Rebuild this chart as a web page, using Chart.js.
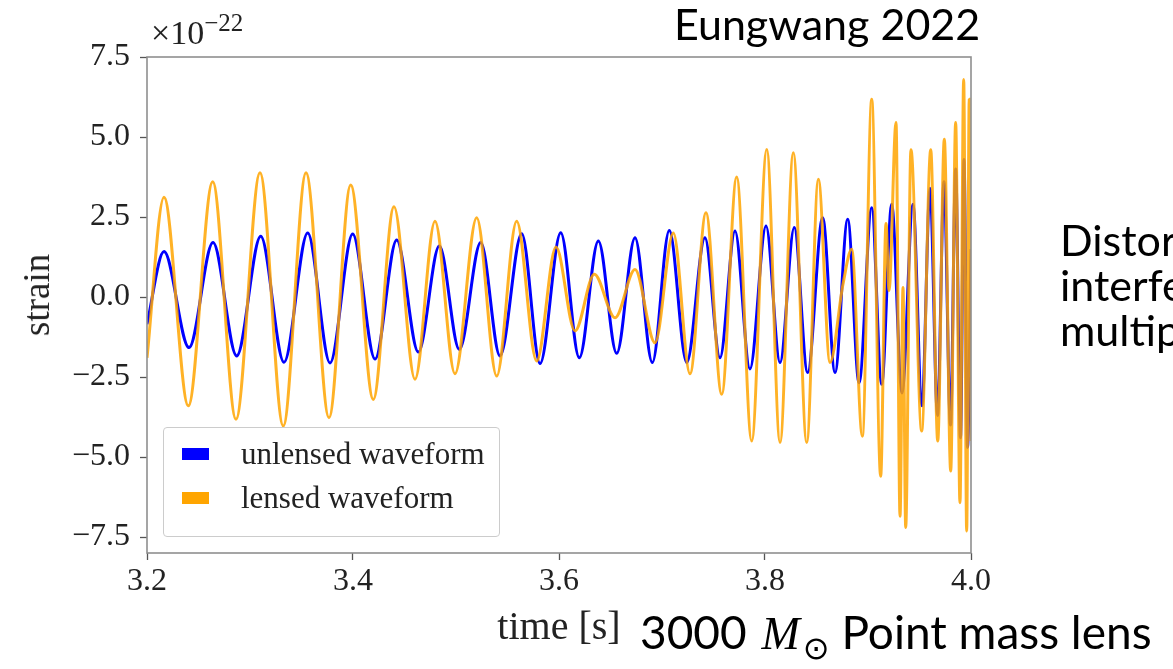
<!DOCTYPE html>
<html lang="en">
<head>
  <meta charset="UTF-8" />
  <title>Unlensed vs lensed waveform</title>
  <script src="https://cdn.jsdelivr.net/npm/chart.js"></script>
  <style>
    html, body {
      margin: 0;
      padding: 0;
      background: #fff;
    }

    body {
      width: 1173px;
      height: 669px;
      position: relative;
      overflow: hidden;
    }

    #waveChart {
      position: absolute;
      left: 0;
      top: 0;
    }

    .serif {
      position: absolute;
      font-family: 'Liberation Serif', 'DejaVu Serif', serif;
      color: #222;
      white-space: nowrap;
    }

    .sans {
      position: absolute;
      font-family: Lato, 'Open Sans', sans-serif;
      color: #000;
      white-space: nowrap;
      font-size: 43px;
    }

    #legend {
      position: absolute;
      left: 163px;
      top: 427px;
      width: 335px;
      height: 108px;
      border: 1.5px solid #cccccc;
      border-radius: 4px;
      background: rgba(255, 255, 255, 0.85);
    }

    .patch {
      position: absolute;
      left: 18px;
      width: 27px;
      height: 12px;
    }
  </style>
</head>
<body>
  <canvas id="waveChart" width="1173" height="669"></canvas>

  <div class="serif" style="left:151px; top:14px; font-size:34px; line-height:38px;">×10<span style="font-size:25px; position:relative; top:-13px;">−22</span></div>
  <div class="serif" style="left:37px; top:295px; font-size:37px; line-height:40px; transform:translate(-50%,-50%) rotate(-90deg);">strain</div>
  <div class="serif" style="left:559px; top:605px; font-size:40px; line-height:42px; transform:translateX(-50%);">time [s]</div>

  <div id="legend">
    <div class="patch" style="top:20px; background:#0000ff;"></div>
    <div class="patch" style="top:64px; background:#ffa500;"></div>
    <div class="serif" style="left:77px; top:9px; font-size:31px; line-height:34px;">unlensed waveform</div>
    <div class="serif" style="left:77px; top:53px; font-size:31px; line-height:34px;">lensed waveform</div>
  </div>

  <div class="sans" style="left:674px; top:2px; line-height:44px;">Eungwang 2022</div>
  <div class="sans" style="left:1060px; top:217px; line-height:45px;">Distortion due to<br>interference of<br>multiple images</div>
  <div class="sans" style="left:640px; top:606px; line-height:52px; font-size:46px;">3000 <i style="font-family:'Liberation Serif',serif; margin:0 3px;">M</i><sub style="font-size:32px; font-family:'DejaVu Sans',sans-serif;">⊙</sub> Point mass lens</div>

  <script>
    // extrema (time in s, strain in units of 1e-22)
    const unlensedTime = [
      3.2000, 3.2165, 3.2408, 3.2641, 3.2871, 3.3104, 3.3330, 3.3560, 3.3777, 3.3997,
      3.4214, 3.4424, 3.4634, 3.4838, 3.5032, 3.5240, 3.5427, 3.5638, 3.5816, 3.6017,
      3.6197, 3.6382, 3.6560, 3.6738, 3.6906, 3.7071, 3.7240, 3.7417, 3.7563, 3.7709,
      3.7854, 3.8010, 3.8146, 3.8284, 3.8414, 3.8560, 3.8680, 3.8803, 3.8913, 3.9036,
      3.9133, 3.9230, 3.9330, 3.9437, 3.9524, 3.9602, 3.9675, 3.9738, 3.9801, 3.9851,
      3.9898, 3.9932, 3.9966, 4.0000
    ];
    const unlensedStrain = [
      -0.85, 1.42, -1.58, 1.70, -1.84, 1.90, -2.04, 2.00, -2.06, 1.97,
      -1.94, 1.78, -1.72, 1.59, -1.64, 1.70, -1.84, 1.98, -2.08, 2.01,
      -1.90, 1.75, -1.76, 1.85, -2.05, 2.08, -2.05, 1.85, -1.90, 2.06,
      -2.25, 2.22, -2.05, 2.17, -2.36, 2.48, -2.36, 2.43, -2.68, 2.79,
      -2.73, 2.90, -3.00, 2.90, -3.40, 3.40, -3.70, 3.60, -4.00, 4.00,
      -4.40, 4.30, -4.70, 1.50
    ];

    const lensedTime = [
      3.2000, 3.2165, 3.2401, 3.2638, 3.2864, 3.3097, 3.3323, 3.3544, 3.3767, 3.3978,
      3.4197, 3.4398, 3.4602, 3.4796, 3.4990, 3.5201, 3.5395, 3.5589, 3.5783, 3.5971,
      3.6155, 3.6343, 3.6544, 3.6738, 3.6932, 3.7110, 3.7272, 3.7427, 3.7580, 3.7725,
      3.7871, 3.8017, 3.8146, 3.8275, 3.8405, 3.8518, 3.8631, 3.8757, 3.8842, 3.8945,
      3.9036, 3.9123, 3.9175, 3.9204, 3.9272, 3.9311, 3.9340, 3.9366, 3.9417, 3.9521,
      3.9609, 3.9677, 3.9741, 3.9803, 3.9851, 3.9893, 3.9929, 3.9958, 3.9983, 4.0000
    ];
    const lensedStrain = [
      -1.90, 3.12, -3.40, 3.60, -3.82, 3.88, -4.03, 3.88, -3.77, 3.50,
      -3.20, 2.82, -2.57, 2.37, -2.40, 2.48, -2.47, 2.37, -2.00, 1.56,
      -1.06, 0.71, -0.65, 0.86, -1.43, 2.00, -2.40, 2.63, -3.04, 3.75,
      -4.50, 4.61, -4.55, 4.51, -4.55, 3.68, -2.05, 0.40, 1.49, -4.35,
      6.18, -5.60, 2.30, 0.20, 5.45, -6.85, 0.30, -7.20, 4.60, -4.19,
      4.60, -4.50, 4.93, -5.44, 5.45, -6.43, 6.80, -7.31, 6.18, -4.50
    ];

    const xTicks = [3.2, 3.4, 3.6, 3.8, 4.0];
    const xTickLabels = ['3.2', '3.4', '3.6', '3.8', '4.0'];
    const yTicks = [-7.5, -5.0, -2.5, 0.0, 2.5, 5.0, 7.5];
    const yTickLabels = ['\u22127.5', '\u22125.0', '\u22122.5', '0.0', '2.5', '5.0', '7.5'];

    const tickFont = { family: "'Liberation Serif', 'DejaVu Serif', serif", size: 32 };

    const framePlugin = {
      id: 'frame',
      afterDatasetsDraw(chart) {
        const { ctx, chartArea: a } = chart;
        ctx.save();
        ctx.strokeStyle = '#8f8f8f';
        ctx.lineWidth = 1.6;
        ctx.strokeRect(a.left, a.top, a.right - a.left, a.bottom - a.top);
        ctx.restore();
      }
    };

    const ctx = document.getElementById('waveChart').getContext('2d');

    new Chart(ctx, {
      type: 'line',
      data: {
        datasets: [
          {
            label: 'unlensed waveform',
            data: unlensedTime.map((t, i) => ({ x: t, y: unlensedStrain[i] })),
            borderColor: '#0000ff',
            borderWidth: 3,
            cubicInterpolationMode: 'monotone',
            pointRadius: 0,
            fill: false,
            order: 1
          },
          {
            label: 'lensed waveform',
            data: lensedTime.map((t, i) => ({ x: t, y: lensedStrain[i] })),
            borderColor: 'rgba(255, 165, 0, 0.85)',
            borderWidth: 3,
            cubicInterpolationMode: 'monotone',
            pointRadius: 0,
            fill: false,
            order: 0
          }
        ]
      },
      options: {
        responsive: false,
        animation: false,
        layout: { padding: { left: 0, top: 57, right: 202, bottom: 0 } },
        plugins: {
          legend: { display: false },
          tooltip: { enabled: false }
        },
        scales: {
          x: {
            type: 'linear',
            min: 3.2,
            max: 4.0,
            afterBuildTicks: s => { s.ticks = xTicks.map(v => ({ value: v })); },
            afterFit: s => { s.height = 116; },
            ticks: {
              callback: (v, i) => xTickLabels[i],
              font: tickFont,
              color: '#222',
              padding: 2,
              maxRotation: 0,
              autoSkip: false
            },
            grid: { drawOnChartArea: false, tickLength: 7, tickColor: '#555', tickWidth: 1.3 },
            border: { display: false }
          },
          y: {
            type: 'linear',
            min: -8.0,
            max: 7.5,
            afterBuildTicks: s => { s.ticks = yTicks.map(v => ({ value: v })); },
            afterFit: s => { s.width = 147; },
            ticks: {
              callback: (v, i) => yTickLabels[i],
              font: tickFont,
              color: '#222',
              padding: 10,
              autoSkip: false
            },
            grid: { drawOnChartArea: false, tickLength: 7, tickColor: '#555', tickWidth: 1.3 },
            border: { display: false }
          }
        }
      },
      plugins: [framePlugin]
    });
  </script>
</body>
</html>
